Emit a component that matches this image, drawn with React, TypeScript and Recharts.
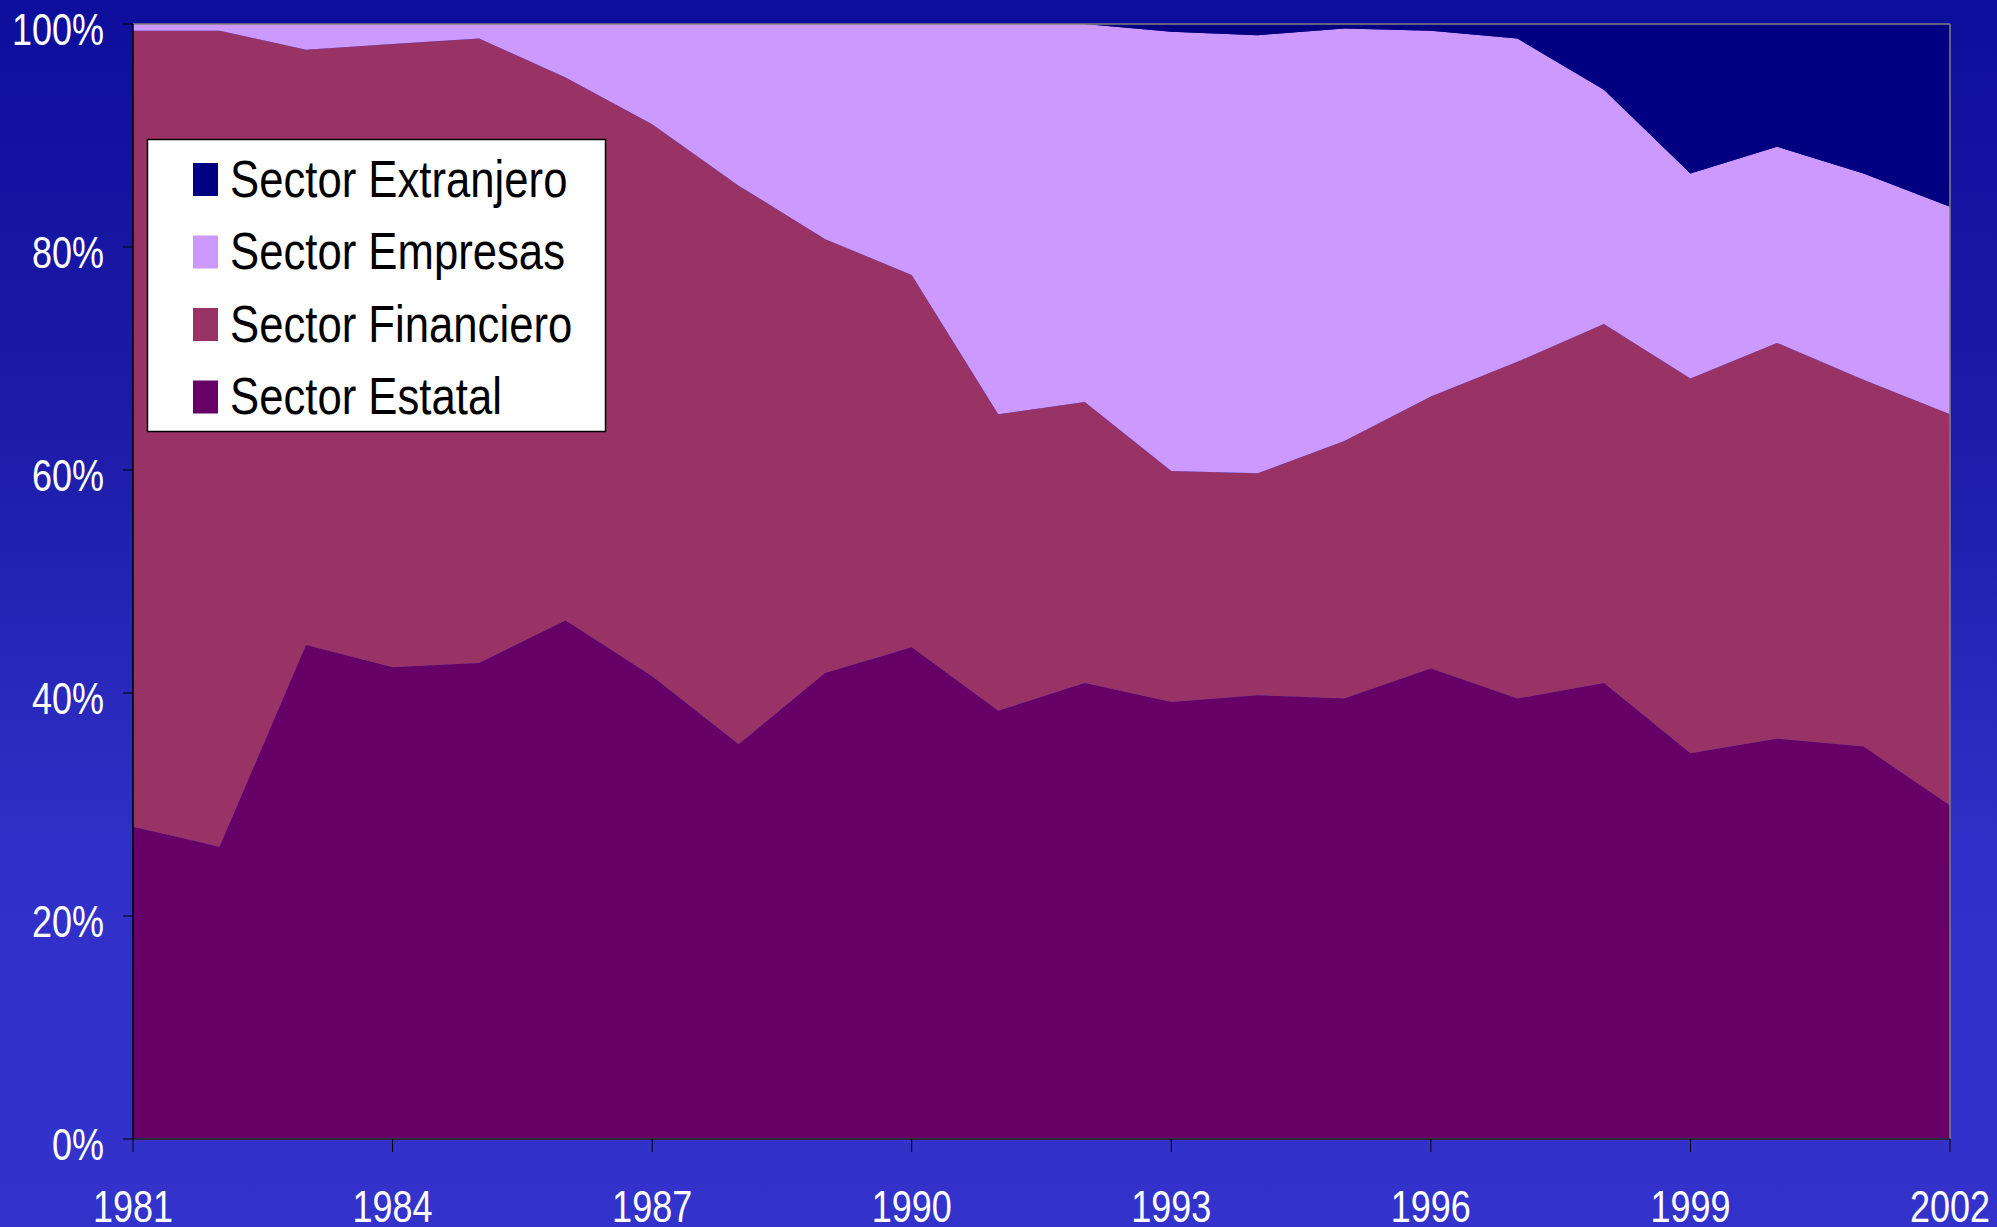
import React from "react";
import { AreaChart, Area, XAxis, YAxis, ReferenceLine } from "recharts";

const years = [1981, 1982, 1983, 1984, 1985, 1986, 1987, 1988, 1989, 1990, 1991, 1992, 1993, 1994, 1995, 1996, 1997, 1998, 1999, 2000, 2001, 2002];
const estatal = [28.0, 26.2, 44.3, 42.3, 42.7, 46.5, 41.5, 35.4, 41.8, 44.1, 38.4, 40.9, 39.2, 39.8, 39.5, 42.2, 39.5, 40.9, 34.6, 35.9, 35.2, 29.9];
const financiero = [71.4, 73.2, 53.4, 55.9, 56.0, 48.7, 49.5, 50.1, 38.9, 33.4, 26.6, 25.2, 20.7, 19.9, 23.1, 24.4, 30.2, 32.2, 33.6, 35.5, 32.9, 35.1];
const empresas = [0.6, 0.6, 2.3, 1.8, 1.3, 4.8, 9.0, 14.5, 19.3, 22.5, 35.0, 33.9, 39.4, 39.3, 37.0, 32.8, 29.0, 21.0, 18.4, 17.6, 18.5, 18.6];
const extranjero = [0, 0, 0, 0, 0, 0, 0, 0, 0, 0, 0, 0, 0.7, 1.0, 0.4, 0.6, 1.3, 5.9, 13.4, 11.0, 13.4, 16.4];
const xTicks = [1981, 1984, 1987, 1990, 1993, 1996, 1999, 2002];
const yTicks = [0, 20, 40, 60, 80, 100];

const seriesNames = ["Sector Estatal", "Sector Financiero", "Sector Empresas", "Sector Extranjero"];
const seriesColors = ["#660066", "#993366", "#CC99FF", "#000080"];

const data = years.map((y, i) => ({
  year: y,
  estatal: estatal[i],
  financiero: financiero[i],
  empresas: empresas[i],
  extranjero: extranjero[i],
}));

const FONT = "'Liberation Sans', Arial, sans-serif";

const YTick = (props: any) => {
  const { x, y, payload } = props;
  return (
    <g transform={`translate(${x},${y}) scale(0.8,1)`}>
      <text x={0} y={0} dy={21} textAnchor="end" fill="#ffffff" fontSize={45} fontFamily={FONT}>
        {`${payload.value}%`}
      </text>
    </g>
  );
};

const XTick = (props: any) => {
  const { x, y, payload } = props;
  return (
    <g transform={`translate(${x},${y}) scale(0.8,1)`}>
      <text x={0} y={0} dy={70} textAnchor="middle" fill="#ffffff" fontSize={45} fontFamily={FONT}>
        {payload.value}
      </text>
    </g>
  );
};

const LegendOverlay = () => {
  const order = [3, 2, 1, 0];
  return (
    <svg
      width={1997}
      height={1227}
      style={{ position: "absolute", left: 0, top: 0, pointerEvents: "none" }}
    >
      <rect x={147.5} y={139.5} width={458} height={292} fill="#ffffff" stroke="#000000" strokeWidth={1.5} />
      {order.map((idx, k) => (
        <g key={idx}>
          <rect x={193} y={163 + k * 72.5} width={25} height={33} fill={seriesColors[idx]} />
          <g transform={`translate(230,${197 + k * 72.3}) scale(0.84,1)`}>
            <text x={0} y={0} fill="#000000" fontSize={52} fontFamily={FONT}>
              {seriesNames[idx]}
            </text>
          </g>
        </g>
      ))}
    </svg>
  );
};

export default function App() {
  return (
    <div
      style={{
        position: "absolute",
        left: 0,
        top: 0,
        width: 1997,
        height: 1227,
        background: "linear-gradient(to bottom, #0e0e9c 0%, #1c1ca8 35%, #3030c8 70%, #3333cc 100%)",
      }}
    >
      <AreaChart
        width={1997}
        height={1227}
        data={data}
        margin={{ top: 24, right: 47, bottom: 0, left: 0 }}
      >
        <XAxis
          dataKey="year"
          type="number"
          domain={[1981, 2002]}
          ticks={xTicks}
          height={88}
          tickSize={13}
          tickMargin={0}
          axisLine={{ stroke: "#2a2a3a", strokeWidth: 2 }}
          tickLine={{ stroke: "#000000" }}
          tick={<XTick />}
        />
        <YAxis
          type="number"
          domain={[0, 100]}
          ticks={yTicks}
          width={133}
          tickSize={10}
          tickMargin={19}
          axisLine={{ stroke: "#000000", strokeWidth: 1.5 }}
          tickLine={{ stroke: "#000000" }}
          tick={<YTick />}
        />
        <Area type="linear" dataKey="estatal" name={seriesNames[0]} stackId="1" stroke="none" fill={seriesColors[0]} fillOpacity={1} isAnimationActive={false} />
        <Area type="linear" dataKey="financiero" name={seriesNames[1]} stackId="1" stroke="none" fill={seriesColors[1]} fillOpacity={1} isAnimationActive={false} />
        <Area type="linear" dataKey="empresas" name={seriesNames[2]} stackId="1" stroke="none" fill={seriesColors[2]} fillOpacity={1} isAnimationActive={false} />
        <Area type="linear" dataKey="extranjero" name={seriesNames[3]} stackId="1" stroke="none" fill={seriesColors[3]} fillOpacity={1} isAnimationActive={false} />
        <ReferenceLine y={100} stroke="#808080" strokeWidth={1.5} />
        <ReferenceLine x={2002} stroke="#808080" strokeWidth={1.5} />
      </AreaChart>
      <LegendOverlay />
    </div>
  );
}
